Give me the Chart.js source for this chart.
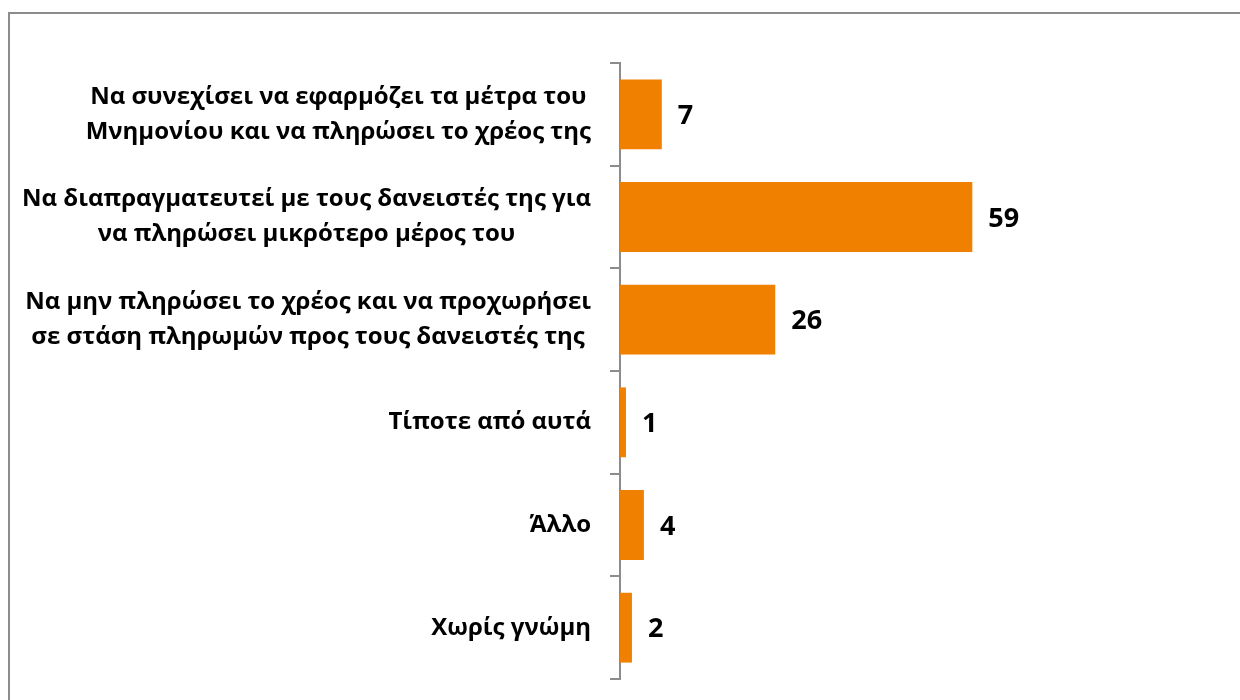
<!DOCTYPE html>
<html>
<head>
<meta charset="utf-8">
<script src="https://cdn.jsdelivr.net/npm/chart.js@4"></script>
<style>
  html, body { margin: 0; padding: 0; background: #fff; overflow: hidden; }
  #wrap { position: relative; width: 1240px; height: 700px; }
  #frame { position: absolute; left: 8px; top: 12px; width: 1400px; height: 900px; border: 2px solid #8c8c8c; box-sizing: border-box; }
  canvas { position: absolute; left: 0; top: 0; }
</style>
</head>
<body>
<div id="wrap">
  <div id="frame"></div>
  <canvas id="c" width="1240" height="700"></canvas>
</div>
<script>
// κατηγορίες και τιμές (%)
const categories = [
  ["Να συνεχίσει να εφαρμόζει τα μέτρα του", "Μνημονίου και να πληρώσει το χρέος της"],
  ["Να διαπραγματευτεί με τους δανειστές της για", "να πληρώσει μικρότερο μέρος του"],
  ["Να μην πληρώσει το χρέος και να προχωρήσει", "σε στάση πληρωμών προς τους δανειστές της"],
  "Τίποτε από αυτά",
  "Άλλο",
  "Χωρίς γνώμη"
];
const values = [7, 59, 26, 1, 4, 2];

const FONT = "'Open Sans', 'Noto Sans', sans-serif";

// ετικέτες κατηγοριών: μπλοκ στοιχισμένο δεξιά, γραμμές κεντραρισμένες (όπως στο Excel)
const catLabels = {
  id: "catLabels",
  afterDraw(chart) {
    const ctx = chart.ctx, y = chart.scales.y;
    const right = chart.chartArea.left - 29, lh = 35;
    ctx.save();
    ctx.font = "bold 24px " + FONT;
    ctx.fillStyle = "#000";
    ctx.textAlign = "center";
    ctx.textBaseline = "middle";
    categories.forEach((c, i) => {
      const lines = Array.isArray(c) ? c : [c];
      const w = Math.max(...lines.map(l => ctx.measureText(l).width));
      const cx = right - w / 2;
      const y0 = y.getPixelForTick(i) - (lines.length - 1) * lh / 2;
      lines.forEach((l, j) => ctx.fillText(l, cx, y0 + j * lh));
    });
    ctx.restore();
  }
};

// ετικέτες τιμών δεξιά από κάθε μπάρα
const valueLabels = {
  id: "valueLabels",
  afterDatasetsDraw(chart) {
    const ctx = chart.ctx;
    const meta = chart.getDatasetMeta(0);
    ctx.save();
    ctx.font = "bold 27px " + FONT;
    ctx.fillStyle = "#000";
    ctx.textAlign = "left";
    ctx.textBaseline = "middle";
    meta.data.forEach((bar, i) => {
      ctx.fillText(String(values[i]), bar.x + 16, bar.y + 2);
    });
    ctx.restore();
  }
};

new Chart(document.getElementById("c"), {
  type: "bar",
  data: {
    labels: categories,
    datasets: [{ data: values, backgroundColor: "#f08000", borderWidth: 0, barPercentage: 0.68, categoryPercentage: 1 }]
  },
  options: {
    indexAxis: "y",
    responsive: false,
    animation: false,
    layout: { padding: { left: 0, top: 63, right: 202, bottom: 21 } },
    plugins: { legend: { display: false }, tooltip: { enabled: false } },
    scales: {
      x: { display: false, min: 0, max: 70 },
      y: {
        afterFit(s) { s.width = 620; s.paddingTop = 0; s.paddingBottom = 0; },
        border: { display: true, color: "#8c8c8c", width: 2 },
        grid: { display: true, drawOnChartArea: false, drawTicks: true, tickLength: 10, color: "#8c8c8c", lineWidth: 2, offset: true },
        ticks: { display: false }
      }
    }
  },
  plugins: [valueLabels, catLabels]
});
</script>
</body>
</html>
